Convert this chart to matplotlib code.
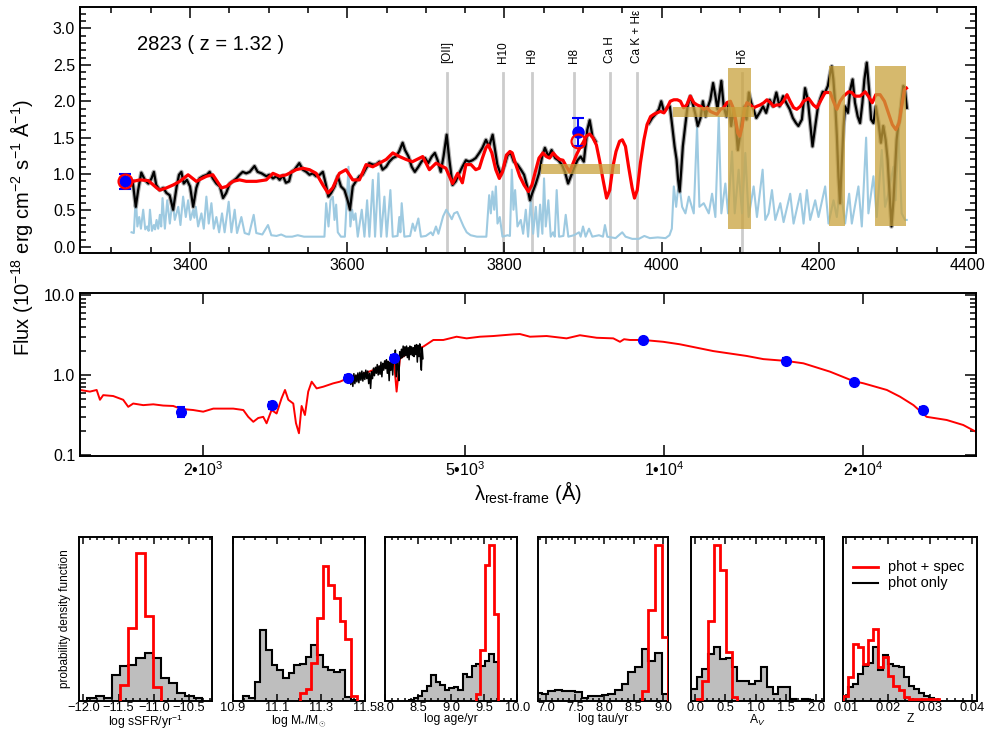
import numpy as np
import matplotlib
matplotlib.use('Agg')
import matplotlib.pyplot as plt
from matplotlib.patches import Rectangle
from matplotlib.ticker import MultipleLocator, FixedLocator, NullLocator, FixedFormatter, NullFormatter

plt.rcParams['font.family'] = ['Liberation Sans', 'DejaVu Sans']
plt.rcParams['mathtext.fontset'] = 'custom'
plt.rcParams['mathtext.rm'] = 'Liberation Sans'
plt.rcParams['mathtext.it'] = 'Liberation Sans:italic'
plt.rcParams['mathtext.bf'] = 'Liberation Sans:bold'

# ---------------- top panel data ----------------
spec1_wl = [3327, 3331, 3334, 3338, 3342.5, 3347, 3351, 3354, 3357, 3361.5, 3366, 3370, 3374, 3378.5, 3383, 3386,
            3389, 3392, 3396, 3400, 3404, 3408, 3412, 3416.5, 3421.5, 3425, 3429, 3433.5, 3438, 3442, 3446, 3450.5,
            3454.5, 3459, 3463, 3467, 3471.5, 3476, 3482, 3486, 3491, 3497, 3501, 3505.5, 3510, 3514, 3518, 3522,
            3526, 3529, 3533, 3539, 3543.5, 3548, 3552, 3556, 3560.5, 3565, 3569, 3573, 3576, 3579.5, 3584, 3588,
            3592, 3596.5, 3600.5, 3603.5, 3607, 3611, 3615.5, 3619.5, 3624, 3628, 3632.5, 3636.5, 3641, 3645,
            3649.5, 3653.5, 3658, 3662, 3666, 3670.5, 3673.5, 3678, 3682, 3686, 3690.5, 3694.5, 3699, 3703,
            3707.5, 3711.5, 3715, 3719, 3722.5, 3726.5, 3730, 3734, 3738, 3742, 3746.5, 3751, 3755, 3759.5,
            3763.5, 3768, 3772, 3776.5, 3780.5, 3785, 3788, 3791, 3795.5, 3799.5, 3804, 3808, 3812, 3816.5,
            3821, 3825, 3829, 3832.5, 3835.5, 3840, 3844, 3848, 3851.5, 3856, 3860, 3864.5, 3868.5, 3873, 3877,
            3881, 3884.5, 3888.5, 3893, 3897, 3901, 3905.5, 3908.5, 3912, 3916]
spec1_fx = [0.90, 0.55, 0.78, 1.02, 0.92, 0.87, 0.94, 1.03, 0.85, 0.78, 0.81, 0.74, 0.71, 0.51, 0.83, 0.99,
            1.03, 0.87, 0.92, 0.83, 0.55, 0.81, 0.94, 0.97, 0.99, 1.03, 0.94, 0.87, 0.83, 0.67, 0.74, 0.87,
            0.90, 0.94, 0.99, 1.03, 1.01, 1.03, 1.11, 1.03, 1.01, 0.97, 0.99, 0.94, 0.97, 0.92, 0.98, 0.88,
            0.90, 1.03, 1.06, 1.15, 1.06, 1.03, 0.99, 1.01, 0.97, 0.99, 1.03, 0.85, 0.69, 0.74, 0.83, 0.97,
            0.83, 0.78, 0.64, 0.51, 0.83, 0.90, 0.97, 0.99, 1.08, 1.15, 1.13, 1.13, 1.17, 1.06,
            1.10, 1.17, 1.22, 1.24, 1.31, 1.43, 1.33, 1.24, 1.10, 1.03, 1.10, 1.17, 1.22, 1.15,
            1.24, 1.29, 1.19, 1.03, 1.24, 1.54, 1.19, 0.85, 0.90, 1.00, 1.10, 1.19, 1.17, 1.19,
            1.22, 1.29, 1.36, 1.47, 1.38, 1.54, 1.33, 1.13, 0.99, 1.10, 1.26, 1.29, 1.17, 1.13,
            1.06, 0.99, 0.83, 0.64, 0.74, 0.87, 1.01, 1.24, 1.36, 1.24, 1.33, 1.22, 1.19, 1.13, 1.03,
            0.87, 0.97, 1.08, 1.19, 1.24, 1.17, 1.61, 1.74, 1.52, 1.45]

spec2_wl = [3984, 3988, 3992, 3996.5, 3999.5, 4003, 4007, 4010.5, 4013.5, 4016.5, 4019, 4021, 4023, 4025, 4027,
            4030, 4033, 4036.5, 4040, 4043, 4046, 4049.5, 4052.5, 4056, 4058.5, 4062, 4065.5, 4068.5, 4071,
            4074, 4076, 4079, 4082.5, 4085.5, 4088.5, 4091.5, 4094.5, 4097, 4099.5, 4102.5, 4105.5, 4108,
            4111, 4114, 4117, 4120.5, 4124.5, 4129, 4133, 4137.5, 4141.5, 4146, 4150, 4154.5, 4158.5, 4163,
            4167, 4171, 4174, 4178.5, 4182.5, 4186, 4189, 4192, 4195.5, 4199, 4202, 4205, 4208, 4211.5,
            4214.5, 4216.5, 4218.5, 4221, 4223, 4225, 4227, 4229, 4231.5, 4233.5, 4237, 4240, 4243, 4246,
            4249.5, 4252.5, 4255.5, 4258, 4261, 4264, 4266.5, 4269.5, 4272.5, 4276, 4279, 4282, 4285,
            4287.5, 4289.5, 4291, 4292.5, 4295, 4297, 4299, 4301, 4303, 4305.5, 4307.5, 4309.5, 4312]
spec2_fx = [1.70, 1.77, 1.82, 1.89, 2.00, 1.86, 1.91, 1.93, 1.66, 1.38, 1.20, 0.92, 0.76, 1.06, 1.38,
            1.66, 1.93, 2.07, 1.95, 1.82, 1.66, 1.77, 2.00, 1.79, 1.91, 2.02, 2.25, 2.07, 1.89,
            2.12, 2.28, 1.93, 1.79, 1.98, 1.66, 1.89, 1.66, 1.33, 1.52, 1.75, 1.93, 1.75,
            2.12, 1.98, 1.89, 1.77, 1.84, 1.93, 1.84, 2.02, 1.93, 2.12, 1.93, 2.07, 1.98, 1.89,
            1.77, 1.70, 1.66, 1.75, 2.18, 2.02, 1.70, 1.38, 1.66, 1.93, 2.04, 2.13, 2.12, 2.21,
            2.39, 2.48, 2.30, 1.93, 1.52, 0.97, 0.60, 1.10, 1.66, 1.93, 1.84, 2.16, 2.30, 1.98,
            1.79, 1.70, 1.98, 2.30, 2.53, 2.16, 1.75, 1.70, 1.93, 1.70, 1.43, 1.66, 1.47,
            1.20, 0.83, 0.55, 0.28, 0.64, 1.06, 1.47, 1.66, 1.75, 2.02, 2.21, 2.16, 1.91]

model_wl = [3323, 3327.5, 3336, 3347, 3357.5, 3361.5, 3370, 3378.5, 3387, 3397.5, 3408, 3421, 3429, 3440,
            3446.5, 3454.5, 3463, 3471.5, 3484.5, 3497, 3505.5, 3514, 3522.5, 3535, 3543.5, 3552, 3560.5,
            3569, 3575.5, 3581.5, 3590, 3598.5, 3607, 3615.5, 3624, 3632.5, 3641, 3649.5, 3658, 3666.5,
            3675, 3683, 3696, 3704.5, 3713, 3725.5, 3734, 3740.5, 3746.5, 3751, 3757.5, 3763.5, 3768,
            3772, 3776.5, 3779.5, 3784, 3789, 3793.5, 3797.5, 3802.5, 3807, 3810, 3814.5, 3819.5, 3825,
            3830.5, 3835, 3840, 3844, 3849, 3853.5, 3857.5, 3862, 3866, 3870.5, 3874.5, 3879, 3883,
            3887.5, 3891.5, 3896, 3900, 3904, 3908.5, 3912.5, 3917, 3921, 3925.5, 3930, 3934, 3938,
            3942, 3946.5, 3950, 3954, 3958, 3962.5, 3965.5, 3969, 3973, 3977.5, 3981.5, 3986, 3990,
            3994, 3998.5, 4003, 4007, 4011, 4015.5, 4020, 4024, 4028, 4032, 4036.5, 4041, 4045, 4049.5,
            4053.5, 4058, 4062, 4066, 4070.5, 4075, 4079, 4083, 4087.5, 4091, 4094, 4097, 4099.5,
            4102.5, 4105.5, 4108.5, 4113, 4117, 4121, 4125.5, 4130, 4134, 4138.5, 4142.5, 4146.5, 4151,
            4155, 4159.5, 4163.5, 4168, 4172, 4176.5, 4180.5, 4187, 4193, 4197.5, 4202, 4208, 4214.5,
            4218.5, 4223, 4227, 4231.5, 4238, 4242, 4246, 4252.5, 4259, 4263, 4268, 4272.5, 4278,
            4283.5, 4288.5, 4293.5, 4298, 4302, 4305.5, 4309, 4311.5]
model_fx = [0.90, 0.90, 0.92, 0.91, 0.81, 0.78, 0.81, 0.85, 0.90, 0.99, 0.90, 0.97, 0.99, 0.81,
            0.83, 0.90, 0.92, 0.90, 0.90, 0.92, 1.01, 0.97, 0.99, 1.06, 1.08, 1.06, 1.01,
            0.85, 0.74, 0.81, 1.01, 1.06, 0.92, 0.92, 1.13, 1.10, 1.15, 1.20, 1.29, 1.24,
            1.20, 1.17, 1.24, 1.06, 1.15, 1.08, 0.87, 1.01, 0.88, 1.13, 1.13, 1.06, 1.08,
            1.22, 1.36, 1.40, 1.29, 1.06, 0.94, 1.03, 1.26, 1.31, 1.29, 1.13, 0.97, 0.85,
            0.76, 0.85, 1.06, 1.22, 1.29, 1.24, 1.22, 1.29, 1.24, 1.20, 1.19, 1.10, 1.03,
            1.15, 1.26, 1.36, 1.43, 1.52, 1.55, 1.50, 1.40, 1.19, 0.92, 0.67, 0.78, 1.10,
            1.31, 1.45, 1.47, 1.38, 1.10, 0.81, 0.67, 0.78, 1.15, 1.47, 1.68, 1.79, 1.82,
            1.84, 1.86, 1.84, 1.91, 2.00, 2.02, 2.02, 2.00, 1.91, 1.95, 2.07, 1.98, 1.95, 1.93,
            1.89, 1.91, 1.86, 1.84, 1.82, 1.89, 1.91, 1.98, 2.00, 1.91, 1.75, 1.56, 1.52,
            1.66, 1.89, 1.98, 1.95, 1.91, 1.93, 1.95, 1.98, 2.02, 1.98, 1.93, 1.95, 1.95,
            2.00, 2.09, 2.00, 1.91, 1.89, 1.93, 2.00, 2.04, 1.95, 1.91, 2.00, 2.12, 2.12,
            2.00, 1.89, 2.00, 2.07, 2.13, 2.12, 2.07, 2.07, 2.13, 2.07, 1.98, 2.09, 2.09,
            2.00, 1.84, 1.68, 1.61, 1.70, 1.93, 2.16, 2.18]

sky_wl = [3325.6, 3328.5, 3331, 3333, 3335.3, 3337.5, 3340.4, 3343, 3345.5, 3347.3, 3349, 3351.5, 3354, 3355.5,
          3357.4, 3359.5, 3361.6, 3363.3, 3365, 3368, 3371, 3374.3, 3377.7, 3380.6, 3385, 3387.8, 3391.2,
          3394.6, 3397.6, 3400.5, 3404, 3405.5, 3407.3, 3410.3, 3414.5, 3417.5, 3420.8, 3423.8, 3427.2,
          3430.2, 3433.5, 3437, 3440.7, 3444, 3449.2, 3452.6, 3456.8, 3459.8, 3465.3, 3469.5, 3475, 3481,
          3484.3, 3492, 3499.2, 3503.4, 3510, 3516, 3522, 3530, 3537, 3545, 3560, 3571, 3573.2, 3576.2,
          3578.7, 3581.7, 3583.8, 3585.9, 3588, 3592, 3597, 3601.6, 3604, 3606.2, 3608.3, 3610.5, 3613.4,
          3618.5, 3621.9, 3625.3, 3628.2, 3632.5, 3635.4, 3639.7, 3643, 3647.3, 3650.2, 3654.9, 3657.9,
          3664, 3666.3, 3667.6, 3669.3, 3672.7, 3680, 3683.3, 3686.2, 3690.5, 3693.8, 3700, 3706.5, 3709,
          3712.9, 3716, 3719, 3722, 3726, 3730, 3733, 3736, 3740, 3744, 3748, 3752, 3757, 3765, 3777,
          3780.6, 3782.7, 3784.8, 3787, 3789.1, 3791.2, 3794.1, 3797.5, 3804, 3807, 3809.4, 3811.5,
          3813.6, 3816.6, 3820.8, 3823.8, 3827.2, 3830.1, 3833.5, 3836.5, 3839.9, 3842.8, 3845.4, 3848.3,
          3850.4, 3852.6, 3855.9, 3858.9, 3861.9, 3864, 3866.5, 3869.5, 3875, 3878, 3881.3, 3888.5,
          3894.9, 3897, 3900, 3903.3, 3907.6, 3911.8, 3920.3, 3925.4, 3927.9, 3930.9, 3941.4, 3949.9,
          3954.1, 3962.6, 3971, 3978, 3985, 3995, 4005, 4010, 4013, 4015.5, 4018.5, 4021.9, 4026.1,
          4030.3, 4034.6, 4040.9, 4045.1, 4048.1, 4053.6, 4060, 4064.2, 4068.4, 4072.7, 4076, 4081.1,
          4084.5, 4089.6, 4093, 4098, 4102.3, 4106.5, 4110.7, 4117.1, 4121.3, 4128.5, 4131.9, 4136.1,
          4140.4, 4144.6, 4151, 4155.2, 4163.6, 4167.9, 4176.4, 4180.6, 4184.8, 4189, 4195.4, 4199.6,
          4208.1, 4212.3, 4218.7, 4222.9, 4227.1, 4233.5, 4238.6, 4242, 4250.4, 4254.7, 4260.2, 4263.1,
          4269.5, 4273.7, 4280.1, 4284.3, 4288.5, 4294.9, 4297.8, 4301.2, 4305.4, 4309.7, 4311.8]
sky_fx = [0.20, 0.19, 0.69, 0.28, 0.41, 0.25, 0.51, 0.24, 0.28, 0.22, 0.51, 0.22, 0.30, 0.24,
          0.37, 0.25, 0.44, 0.28, 0.67, 0.25, 0.64, 0.32, 0.64, 0.37, 0.55, 0.30, 0.69,
          0.41, 0.64, 0.37, 0.51, 0.40, 0.55, 0.28, 0.46, 0.25, 0.69, 0.32, 0.60,
          0.25, 0.41, 0.20, 0.46, 0.20, 0.62, 0.20, 0.51, 0.19, 0.41, 0.19, 0.17, 0.44,
          0.19, 0.17, 0.30, 0.16, 0.15, 0.17, 0.14, 0.14, 0.16, 0.14, 0.14, 0.14, 0.60, 0.28,
          0.64, 0.69, 0.37, 0.58, 0.20, 0.14, 0.14, 1.10, 0.28, 0.51, 0.37, 0.46, 0.14,
          0.51, 0.14, 0.64, 0.14, 0.92, 0.14, 1.01, 0.14, 0.69, 0.14, 0.78, 0.14,
          0.15, 0.41, 0.20, 0.60, 0.14, 0.15, 0.32, 0.22, 0.39, 0.14, 0.15, 0.20, 0.16,
          0.28, 0.18, 0.30, 0.42, 0.51, 0.44, 0.38, 0.46, 0.48, 0.38, 0.28, 0.20, 0.16, 0.14, 0.14,
          0.71, 0.46, 0.76, 0.51, 0.83, 0.32, 0.41, 0.14, 0.16, 0.15, 1.06, 0.51,
          0.78, 0.28, 0.37, 0.18, 0.51, 0.14, 0.64, 0.18, 0.55, 0.14, 0.58, 0.18,
          0.94, 0.28, 0.64, 0.14, 0.20, 0.14, 0.78, 0.14, 0.15, 0.44, 0.14, 0.16,
          0.20, 0.14, 0.28, 0.14, 0.25, 0.14, 0.16, 0.14, 0.30, 0.14, 0.12, 0.20,
          0.14, 0.11, 0.11, 0.15, 0.12, 0.13, 0.12, 0.16, 0.25, 0.83, 0.55, 0.90, 0.55,
          0.46, 0.69, 0.46, 1.66, 0.55, 0.60, 0.46, 0.73, 0.41, 1.79, 0.46, 0.87,
          0.46, 1.31, 0.46, 1.06, 0.46, 1.29, 0.41, 0.83, 0.41, 1.06, 0.37, 0.46,
          0.78, 0.37, 0.60, 0.34, 0.73, 0.32, 0.73, 0.32, 0.78, 0.37, 0.64, 0.41,
          0.83, 0.32, 0.64, 0.41, 0.83, 0.32, 0.73, 0.32, 0.83, 0.28, 1.50, 0.46,
          0.97, 0.41, 1.33, 0.55, 0.73, 1.10, 0.64, 1.61, 0.46, 0.37, 0.37]

line_names = ['[OII]', 'H10', 'H9', 'H8', 'Ca H', 'Ca K + H\u03b5', 'H\u03b4']
line_wl = [3727.0, 3798.0, 3835.4, 3889.0, 3933.7, 3968.5, 4101.7]

box_wl_lo = [3846, 4015, 4084, 4213.5, 4271.5]
box_wl_hi = [3947, 4118, 4114, 4233.5, 4311]
box_fx_lo = [1.00, 1.78, 0.24, 0.28, 0.28]
box_fx_hi = [1.14, 1.92, 2.46, 2.49, 2.49]

top_phot_wl = [3317, 3893]
top_phot_fx = [0.90, 1.58]
top_phot_err = [0.10, 0.19]
top_model_phot_fx = [0.90, 1.46]

top_xticks = [3400, 3600, 3800, 4000, 4200, 4400]
top_xticklabels = ['3400', '3600', '3800', '4000', '4200', '']

# ---------------- middle panel data ----------------
sed_wl = [1304, 1350, 1382, 1398, 1414, 1464, 1516, 1543, 1570, 1626, 1684, 1743, 1805, 1858, 1935, 2004,
          2076, 2149, 2226, 2305, 2345, 2387, 2428, 2471, 2500, 2544, 2589, 2634, 2666, 2697, 2744, 2770,
          2799, 2825, 2858, 2891, 2926, 2977, 3047, 3155, 3229, 3317, 3462, 3627, 3800, 3900, 3935, 3981,
          4122, 4318, 4473, 4631, 4851, 5024, 5263, 5513, 5910, 6051, 6266, 6641, 7120, 7459, 7908, 8380,
          8578, 8700, 8880, 9303, 9975, 10573, 11880, 13344, 14143, 15303, 16263, 17850, 19360, 20060,
          21760, 22790, 23880, 25000, 26810, 28410, 29700]
sed_fx = [0.65, 0.62, 0.65, 0.49, 0.56, 0.546, 0.49, 0.40, 0.44, 0.42, 0.43, 0.415, 0.41, 0.376, 0.365, 0.348,
          0.38, 0.38, 0.38, 0.365, 0.30, 0.26, 0.29, 0.30, 0.249, 0.365, 0.33, 0.51, 0.65, 0.49, 0.44, 0.25,
          0.187, 0.41, 0.316, 0.62, 0.825, 0.68, 0.714, 0.787, 0.825, 0.91, 1.0, 1.15, 1.40, 1.45, 0.62, 1.6,
          1.96, 2.26, 2.74, 2.74, 3.01, 2.87, 3.01, 3.07, 3.22, 3.25, 3.01, 3.07, 2.87, 3.14, 2.92, 2.87,
          2.6, 2.8, 2.74, 2.74, 2.6, 2.42, 1.99, 1.73, 1.58, 1.50, 1.40, 1.10, 0.84, 0.787,
          0.65, 0.535, 0.42, 0.30, 0.274, 0.237, 0.195]

mid_spec_wl = [3330, 3342, 3354, 3366, 3378, 3390, 3402, 3414, 3426, 3438, 3450, 3462, 3474, 3486, 3498, 3510,
               3522, 3534, 3546, 3558, 3570, 3582, 3594, 3606, 3618, 3630, 3642, 3654, 3666, 3678, 3690, 3702,
               3714, 3726, 3738, 3750, 3762, 3774, 3786, 3798, 3810, 3822, 3834, 3846, 3858, 3870, 3882, 3894,
               3906, 3918, 3930, 3942, 3954, 3966, 3978, 3990, 4002, 4014, 4026, 4038, 4050, 4062, 4074, 4086,
               4098, 4110, 4122, 4134, 4146, 4158, 4170, 4182, 4194, 4206, 4218, 4230, 4242, 4254, 4266, 4278,
               4290, 4302, 4314]
mid_spec_fx = [0.88, 1.02, 0.76, 0.98, 0.72, 1.04, 0.78, 1.00, 0.82, 1.06, 0.80, 1.08, 0.86, 1.12, 0.84, 1.08,
               0.88, 1.15, 0.90, 1.12, 0.78, 1.05, 0.68, 1.10, 0.90, 1.22, 0.98, 1.25, 1.05, 1.35, 1.00, 1.30,
               1.02, 1.45, 0.95, 1.40, 1.15, 1.50, 1.20, 1.55, 1.05, 1.48, 0.85, 1.45, 1.15, 1.60, 1.00, 1.75,
               1.40, 2.05, 0.95, 1.80, 1.20, 0.85, 1.95, 1.60, 2.10, 1.65, 2.30, 1.70, 2.25, 1.75, 2.30, 1.65,
               2.20, 1.55, 2.30, 1.80, 2.25, 1.75, 2.20, 1.70, 2.35, 1.80, 2.40, 1.45, 2.35, 1.70, 2.45, 1.50,
               1.15, 2.20, 1.60]

phot_wl = [1858, 2544, 3317, 3893, 9303, 15303, 19400, 24710]
phot_fx = [0.348, 0.42, 0.92, 1.62, 2.74, 1.50, 0.81, 0.365]
phot_err = [0.05, 0.04, 0.07, 0.14, 0.2, 0.12, 0.06, 0.03]

# ---------------- histogram data ----------------
ssfr_edges_all = [-11.943, -11.827, -11.711, -11.595, -11.479, -11.363, -11.247, -11.131, -11.015, -10.899,
                  -10.783, -10.667, -10.551, -10.435, -10.319]
ssfr_phot = [0.014, 0.031, 0.018, 0.157, 0.212, 0.218, 0.259, 0.294, 0.26, 0.137, 0.106, 0.045, 0.031, 0.014]
ssfr_edges_spec = [-11.479, -11.363, -11.247, -11.131, -11.015, -10.899]
ssfr_spec = [0.096, 0.443, 0.906, 0.518, 0.086]

mass_edges_all = [10.948, 10.974, 10.999, 11.025, 11.051, 11.077, 11.102, 11.128, 11.154, 11.179, 11.205,
                  11.231, 11.256, 11.282, 11.308, 11.334, 11.359, 11.385, 11.411, 11.436, 11.462]
mass_phot = [0.031, 0.014, 0.116, 0.433, 0.31, 0.218, 0.19, 0.137, 0.167, 0.218, 0.222, 0.27, 0.34, 0.28,
             0.208, 0.188, 0.178, 0.188, 0.024, 0.004]
mass_edges_spec = [11.205, 11.231, 11.256, 11.282, 11.308, 11.334, 11.359, 11.385, 11.411, 11.436, 11.462]
mass_spec = [0.045, 0.069, 0.229, 0.504, 0.827, 0.708, 0.627, 0.49, 0.378, 0.031]

age_edges_all = [8.363, 8.431, 8.498, 8.566, 8.633, 8.701, 8.768, 8.836, 8.903, 8.971, 9.038, 9.106, 9.173,
                 9.241, 9.308, 9.376, 9.443, 9.511, 9.578, 9.646, 9.713]
age_phot = [0.004, 0.014, 0.031, 0.061, 0.092, 0.158, 0.113, 0.098, 0.066, 0.078, 0.082, 0.066, 0.164, 0.148,
            0.215, 0.225, 0.215, 0.24, 0.283, 0.236]
age_edges_spec = [9.376, 9.443, 9.511, 9.578, 9.646, 9.713]
age_spec = [0.041, 0.311, 0.83, 0.953, 0.529]

tau_edges_all = [6.812, 6.926, 7.040, 7.153, 7.267, 7.381, 7.495, 7.609, 7.722, 7.836, 7.950, 8.064, 8.178,
                 8.292, 8.405, 8.519, 8.633, 8.747, 8.861, 8.974, 9.088]
tau_phot = [0.045, 0.041, 0.061, 0.066, 0.061, 0.057, 0.051, 0.014, 0.027, 0.031, 0.035, 0.041, 0.068, 0.102,
            0.174, 0.205, 0.318, 0.24, 0.291, 0.041]
tau_edges_spec = [8.633, 8.747, 8.861, 8.974, 9.088]
tau_spec = [0.061, 0.553, 0.953, 0.389]

av_edges_all = [-0.074, 0.022, 0.119, 0.215, 0.312, 0.408, 0.504, 0.601, 0.697, 0.794, 0.890, 0.986, 1.083,
                1.179, 1.276, 1.372, 1.468, 1.565, 1.661, 1.758, 1.854, 1.950]
av_phot = [0.072, 0.143, 0.195, 0.283, 0.328, 0.256, 0.26, 0.205, 0.123, 0.119, 0.102, 0.123, 0.209, 0.082,
           0.041, 0.086, 0.082, 0.01, 0.0, 0.01, 0.004]
av_edges_spec = [0.022, 0.119, 0.215, 0.312, 0.408, 0.504, 0.601, 0.697]
av_spec = [0.01, 0.123, 0.49, 0.953, 0.80, 0.297, 0.02]

z_edges_all = [0.0093, 0.0105, 0.0117, 0.0129, 0.0141, 0.0153, 0.0165, 0.0177, 0.0189, 0.0201, 0.0213,
               0.0225, 0.0237, 0.0249, 0.0261, 0.0273, 0.0285, 0.0297, 0.0309, 0.0321]
z_phot = [0.031, 0.082, 0.102, 0.164, 0.215, 0.23, 0.328, 0.189, 0.277, 0.225, 0.215, 0.205, 0.143, 0.092,
          0.072, 0.045, 0.031, 0.014, 0.006]
z_spec = [0.031, 0.143, 0.348, 0.328, 0.225, 0.369, 0.44, 0.205, 0.27, 0.154, 0.092, 0.066, 0.02, 0.01,
          0.008, 0.008, 0.008, 0.008, 0.008]

hist_xlabels = ['log sSFR/yr$^{-1}$', 'log M$_{*}$/M$_{\\odot}$', 'log age/yr', 'log tau/yr', 'A$_{V}$', 'Z']
hist_xlims = [(-12.057, -10.17), (10.9, 11.5), (8.0, 10.0), (6.87, 9.09), (-0.074, 2.125), (0.0093, 0.0412)]
hist_ticks = [[-12.0, -11.5, -11.0, -10.5], [10.9, 11.1, 11.3, 11.5], [8.0, 8.5, 9.0, 9.5, 10.0],
              [7.0, 7.5, 8.0, 8.5, 9.0], [0.0, 0.5, 1.0, 1.5, 2.0], [0.01, 0.02, 0.03, 0.04]]
hist_ticklabels = [['\u221212.0', '\u221211.5', '\u221211.0', '\u221210.5'], ['10.9', '11.1', '11.3', '11.5'],
                   ['8.0', '8.5', '9.0', '9.5', '10.0'], ['7.0', '7.5', '8.0', '8.5', '9.0'],
                   ['0.0', '0.5', '1.0', '1.5', '2.0'], ['0.01', '0.02', '0.03', '0.04']]
hist_minor = [0.1, 0.05, 0.1, 0.1, 0.1, 0.002]

# ---------------- figure ----------------
W, H = 990, 729
fig = plt.figure(figsize=(W / 100, H / 100), dpi=100)


def frac(x0, y0, x1, y1):
    return [x0 / W, 1 - y1 / H, (x1 - x0) / W, (y1 - y0) / H]


def style(ax, lw=1.4):
    for s in ax.spines.values():
        s.set_linewidth(lw)
    ax.tick_params(which='both', direction='in', top=True, right=True, width=1.1)
    ax.tick_params(which='major', length=8)
    ax.tick_params(which='minor', length=4)


BOXC = '#C9A23C'
SKYC = '#9ECAE1'

# top panel
ax1 = fig.add_axes(frac(80, 7.3, 976, 252.7))
style(ax1)
for name, wl in zip(line_names, line_wl):
    ax1.plot([wl, wl], [-0.1, 2.39], color='#CCCCCC', lw=2.0, zorder=1)
    ax1.text(wl, 2.52, name, rotation=90, ha='center', va='bottom', fontsize=8.5, zorder=7)
ax1.plot(sky_wl, sky_fx, color=SKYC, lw=1.5, zorder=2)
for wl, fx in ((spec1_wl, spec1_fx), (spec2_wl, spec2_fx)):
    ax1.plot(wl, fx, color='#777777', lw=3.2, alpha=0.6, zorder=3)
    ax1.plot(wl, fx, color='black', lw=1.6, zorder=3.5)
ax1.plot(model_wl, model_fx, color='red', lw=2.3, zorder=4)
for lo, hi, b, t in zip(box_wl_lo, box_wl_hi, box_fx_lo, box_fx_hi):
    ax1.add_patch(Rectangle((lo, b), hi - lo, t - b, facecolor=BOXC, edgecolor='none', alpha=0.75, zorder=5))
ax1.errorbar(top_phot_wl, top_phot_fx, yerr=top_phot_err, fmt='o', color='blue', ms=8, capsize=4,
             elinewidth=1.5, capthick=1.5, zorder=6)
ax1.plot(top_phot_wl, top_model_phot_fx, 'o', mfc='none', mec='red', ms=10, mew=1.6, zorder=6.5)
ax1.text(3333, 2.78, '2823 ( z = 1.32 )', fontsize=14.5, ha='left', va='center')
ax1.set_xlim(3260, 4400)
ax1.set_ylim(-0.08, 3.29)
ax1.xaxis.set_major_locator(FixedLocator(top_xticks))
ax1.xaxis.set_major_formatter(FixedFormatter(top_xticklabels))
ax1.xaxis.set_minor_locator(MultipleLocator(50))
ax1.yaxis.set_major_locator(MultipleLocator(0.5))
ax1.yaxis.set_minor_locator(MultipleLocator(0.1))
ax1.yaxis.set_major_formatter(plt.FormatStrFormatter('%.1f'))
ax1.tick_params(labelsize=11.5)
ax1.annotate(str(top_xticks[-1]), xy=(top_xticks[-1], 0), xycoords=('data', 'axes fraction'),
             xytext=(-6, -3.5), textcoords='offset points', ha='center', va='top', fontsize=11.5,
             annotation_clip=False)

# middle panel
ax2 = fig.add_axes(frac(80, 293.3, 976, 455.7))
style(ax2)
ax2.set_xscale('log')
ax2.set_yscale('log')
ax2.plot(sed_wl, sed_fx, color='red', lw=1.4, zorder=2)
ax2.plot(mid_spec_wl, mid_spec_fx, color='black', lw=1.1, zorder=3)
ax2.errorbar(phot_wl, phot_fx, yerr=phot_err, fmt='o', color='blue', ms=7, capsize=3,
             elinewidth=1.5, capthick=1.5, zorder=4)
ax2.set_xlim(1304, 29700)
ax2.set_ylim(0.098, 10.5)
ax2.xaxis.set_major_locator(FixedLocator([2000, 5000, 10000, 20000]))
ax2.xaxis.set_major_formatter(FixedFormatter(['2\u202210$^3$', '5\u202210$^3$', '1\u202210$^4$', '2\u202210$^4$']))
ax2.xaxis.set_minor_locator(NullLocator())
ax2.yaxis.set_major_locator(FixedLocator([0.1, 1.0, 10.0]))
ax2.yaxis.set_major_formatter(FixedFormatter(['0.1', '1.0', '10.0']))
ax2.yaxis.set_minor_locator(FixedLocator([m * d for d in (0.1, 1.0) for m in range(2, 10)]))
ax2.yaxis.set_minor_formatter(NullFormatter())
ax2.tick_params(labelsize=11.5)

fig.text(22 / W, 1 - 228 / H, 'Flux (10$^{-18}$ erg cm$^{-2}$ s$^{-1}$ \u00c5$^{-1}$)', rotation=90,
         ha='center', va='center', fontsize=14.5)
fig.text(528 / W, 1 - 493 / H, '\u03bb$_{\\mathrm{rest}\\text{-}\\mathrm{frame}}$ (\u00c5)', ha='center',
         va='center', fontsize=14.5)

# histogram panels
hist_px = [(79.3, 212.3), (232.7, 365), (385, 517.3), (538.3, 668.3), (690.7, 824), (843.3, 976.7)]
hist_all = [(ssfr_edges_all, ssfr_phot, ssfr_edges_spec, ssfr_spec),
            (mass_edges_all, mass_phot, mass_edges_spec, mass_spec),
            (age_edges_all, age_phot, age_edges_spec, age_spec),
            (tau_edges_all, tau_phot, tau_edges_spec, tau_spec),
            (av_edges_all, av_phot, av_edges_spec, av_spec),
            (z_edges_all, z_phot, z_edges_all, z_spec)]
for i, ((x0, x1), (e_all, v_all, e_sp, v_sp)) in enumerate(zip(hist_px, hist_all)):
    ax = fig.add_axes(frac(x0, 537.3, x1, 700.7))
    style(ax)
    ax.stairs(v_all, e_all, fill=True, color='#BEBEBE', zorder=1)
    ax.stairs(v_all, e_all, color='black', lw=1.5, zorder=2)
    ax.stairs(v_sp, e_sp, color='red', lw=2.0, zorder=3)
    ax.set_xlim(*hist_xlims[i])
    ax.set_ylim(0, 1.0)
    ax.xaxis.set_major_locator(FixedLocator(hist_ticks[i]))
    ax.xaxis.set_major_formatter(FixedFormatter(hist_ticklabels[i]))
    ax.xaxis.set_minor_locator(MultipleLocator(hist_minor[i]))
    ax.yaxis.set_major_locator(NullLocator())
    ax.yaxis.set_minor_locator(NullLocator())
    ax.tick_params(axis='x', which='major', length=5, labelsize=9.3, pad=1)
    ax.tick_params(axis='x', which='minor', length=2.5)
    ax.set_xlabel(hist_xlabels[i], fontsize=8.7, labelpad=-1)
    if i == 0:
        ax.set_ylabel('probability density function', fontsize=8.5, labelpad=6)
    if i == 5:
        ax.plot([0.07, 0.262], [0.816, 0.816], color='red', lw=2.0, transform=ax.transAxes)
        ax.plot([0.07, 0.262], [0.718, 0.718], color='black', lw=1.5, transform=ax.transAxes)
        ax.text(0.337, 0.816, 'phot + spec', transform=ax.transAxes, fontsize=10.5, va='center')
        ax.text(0.337, 0.718, 'phot only', transform=ax.transAxes, fontsize=10.5, va='center')

fig.savefig('out.png', dpi=100)
